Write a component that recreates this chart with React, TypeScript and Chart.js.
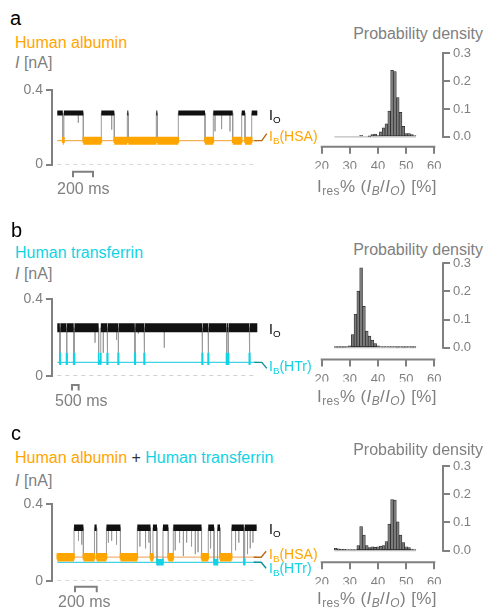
import { useEffect, useRef } from 'react';
import type { ReactNode, CSSProperties } from 'react';
import { Chart, registerables } from 'chart.js';

Chart.register(...registerables);

const FONT = "'Liberation Sans', Arial, sans-serif";
Chart.defaults.font.family = FONT;

const GRAY = '#808080';
const ORANGE = '#ffa500';
const CYAN = '#12d3e4';
const HSA_LINK = '#b8690f';
const HTR_LINK = '#0b8f99';

// ---------------- data: panel a (human albumin) ----------------
const aDurationMs = 2000;
const aOpenNA = 0.277;
const aHsaNA = 0.128;
const aHsaEvents: [number, number][] = [
  [55, 66], [260, 440], [570, 700], [710, 990], [1000, 1210], [1477, 1560], [1754, 1844], [1877, 1944],
];
const aSpikes: [number, number][] = [
  [210, 0.224], [544, 0.187], [1577, 0.178], [1643, 0.19], [1727, 0.178],
];
const aScaleBarMs: [number, number] = [157, 200];

// ---------------- data: panel b (human transferrin) ----------------
const bDurationMs = 15000;
const bOpenNA = 0.251;
const bHtrNA = 0.07;
const bHtrEvents: [number, number][] = [
  [190, 230], [690, 730], [1230, 1290], [3100, 3260], [3740, 3780], [4560, 4600], [5810, 5850],
  [6510, 6550], [10860, 10900], [11310, 11350], [12690, 12730], [12810, 12850], [14400, 14440],
];
const bSpikes: [number, number][] = [
  [2830, 0.173], [3450, 0.12], [4440, 0.187], [6075, 0.22], [8025, 0.147],
];
const bScaleBarMs: [number, number] = [1100, 500];

// ---------------- data: panel c (mixture) ----------------
const cDurationMs = 1834;
const cOpenNA = 0.278;
const cHsaNA = 0.124;
const cHtrNA = 0.0975;
const cHsaEvents: [number, number][] = [
  [0, 154], [240, 342], [362, 452], [581, 736], [857, 880], [1021, 1067], [1327, 1389], [1497, 1604],
];
const cHtrEvents: [number, number][] = [[917, 972], [1442, 1474], [1716, 1724]];
const cSpikes: [number, number][] = [
  [195, 0.21], [225, 0.19], [470, 0.2], [500, 0.21], [545, 0.19], [760, 0.18], [812, 0.17], [843, 0.2],
  [1085, 0.16], [1125, 0.2], [1160, 0.13], [1190, 0.2], [1235, 0.18], [1270, 0.14], [1295, 0.15],
  [1410, 0.17], [1640, 0.16], [1670, 0.2], [1750, 0.14], [1775, 0.17], [1800, 0.2],
];
const cScaleBarMs: [number, number] = [163, 200];

// ---------------- data: histograms ----------------
const histBinCenters = [25, 26, 27, 28, 29, 30, 31, 32, 33, 34, 35, 36, 37, 38, 39, 40, 41, 42, 43, 44, 45, 46, 47, 48, 49, 50, 51, 52, 53];
const histEdges: [number, number] = [24.5, 53.5];
const aDensity = [0, 0, 0, 0, 0, 0, 0, 0, 0, 0.006, 0, 0, 0.002, 0.008, 0.01, 0.005, 0.018, 0.032, 0.047, 0.092, 0.238, 0.234, 0.141, 0.088, 0.038, 0.012, 0.012, 0.008, 0.005];
const bDensity = [0.002, 0.002, 0.002, 0.002, 0.003, 0.007, 0.047, 0.119, 0.201, 0.284, 0.147, 0.059, 0.041, 0.027, 0.015, 0.007, 0.004, 0.003, 0.004, 0.003, 0.003, 0.003, 0.002, 0.003, 0.002, 0.002, 0.003, 0.002, 0.002];
const cDensity = [0.008, 0.007, 0.005, 0.005, 0.004, 0.004, 0.003, 0.004, 0.018, 0.085, 0.055, 0.018, 0.011, 0.014, 0.012, 0.014, 0.016, 0.018, 0.032, 0.094, 0.181, 0.179, 0.102, 0.055, 0.029, 0.014, 0.011, 0.006, 0.004];
const histXTicks = [20, 30, 40, 50, 60];
const histYTicks = [0, 0.1, 0.2, 0.3];
const traceYTicks = [0, 0.4];

// ---------------- types ----------------
type Block = {
  level: number; events: [number, number][]; color: string; band: number;
  tipUp: number; tipDown: number; refColor: string;
};
type TraceCfg = {
  y04: number; y0: number; msPerPx: number; duration: number; open: number; openBand: number;
  blocks: Block[]; spikes: [number, number][]; scaleBar: [number, number]; scaleBarGap: number;
  connectors: { level: number; color: string; dy: number }[];
};
type HistCfg = { y03: number; y00: number; yAxis: number; density: number[] };
type P = { x: number; y: number | null };

function buildTrace(cfg: TraceCfg) {
  const items = [
    ...cfg.blocks.flatMap((b) => b.events.map(([s, e]) => ({ s, e, level: b.level, spike: false }))),
    ...cfg.spikes.map(([t, d]) => ({ s: t, e: t, level: d, spike: true })),
  ].sort((p, q) => p.s - q.s);
  const gray: P[] = [];
  const open: P[] = [];
  let cursor = 0;
  const startsBlocked = items.length > 0 && !items[0].spike && items[0].s <= 0;
  if (!startsBlocked) gray.push({ x: 0, y: cfg.open });
  for (const it of items) {
    if (it.spike) {
      gray.push({ x: it.s, y: cfg.open }, { x: it.s, y: it.level }, { x: it.s, y: cfg.open });
      continue;
    }
    if (it.s > cursor) open.push({ x: cursor, y: cfg.open }, { x: it.s, y: cfg.open }, { x: it.s, y: null });
    if (it.s > 0) gray.push({ x: it.s, y: cfg.open });
    gray.push({ x: it.s, y: it.level }, { x: it.e, y: it.level }, { x: it.e, y: cfg.open });
    cursor = it.e;
  }
  if (cursor < cfg.duration) open.push({ x: cursor, y: cfg.open }, { x: cfg.duration, y: cfg.open });
  gray.push({ x: cfg.duration, y: cfg.open });
  return { gray, open };
}

function lineDs(data: P[], color: string, width: number, dash: number[] = []) {
  return {
    type: 'line' as const, data, borderColor: color, borderWidth: width, borderDash: dash,
    pointRadius: 0, tension: 0, fill: false, spanGaps: false, borderCapStyle: 'butt' as const,
  };
}

const TRACE_W = 300;
const TRACE_H = 140;
const AXIS_X = 52;
const START_X = 57.3;

function TraceChart({ cfg }: { cfg: TraceCfg }) {
  const ref = useRef<HTMLCanvasElement>(null);
  const canvasTop = Math.round(cfg.y04) - 20;
  useEffect(() => {
    if (!ref.current) return;
    const padT = cfg.y04 - canvasTop;
    const padB = TRACE_H - padT - (cfg.y0 - cfg.y04);
    const xMin = -(START_X - AXIS_X) * cfg.msPerPx;
    const xMax = xMin + (TRACE_W - AXIS_X) * cfg.msPerPx;
    const { gray, open } = buildTrace(cfg);
    const ds: any[] = [];
    cfg.blocks.forEach((b) => {
      const tips: P[] = b.events.flatMap(([s, e]) => [
        { x: s, y: b.level + b.tipUp }, { x: s, y: b.level - b.tipDown }, { x: s, y: null },
        { x: e, y: b.level - b.tipDown }, { x: e, y: b.level + b.tipUp }, { x: e, y: null },
      ]);
      ds.push(lineDs(tips, b.color, 1.6));
    });
    cfg.blocks.forEach((b) => {
      const band: P[] = b.events.flatMap(([s, e]) => [{ x: s, y: b.level }, { x: e, y: b.level }, { x: e, y: null }]);
      ds.push(lineDs(band, b.color, b.band));
    });
    ds.push(lineDs(open, '#111111', cfg.openBand));
    ds.push(lineDs(gray, '#9a9a9a', 1));
    cfg.blocks.forEach((b) => {
      ds.push(lineDs([{ x: 0, y: b.level }, { x: cfg.duration, y: b.level }], b.refColor, 1.3));
    });
    ds.push(lineDs([{ x: 0, y: 0 }, { x: cfg.duration, y: 0 }], '#b4b4b4', 1, [4, 4]));

    const extras = {
      id: 'traceExtras',
      afterDatasetsDraw(chart: any) {
        const { ctx, scales } = chart;
        const x = scales.x, y = scales.y;
        ctx.save();
        const x1 = x.getPixelForValue(cfg.scaleBar[0]);
        const x2 = x.getPixelForValue(cfg.scaleBar[0] + cfg.scaleBar[1]);
        const yb = y.getPixelForValue(0) + cfg.scaleBarGap;
        ctx.strokeStyle = GRAY;
        ctx.lineWidth = 2;
        ctx.lineJoin = 'miter';
        ctx.beginPath();
        ctx.moveTo(x1, yb + 5.5);
        ctx.lineTo(x1, yb);
        ctx.lineTo(x2, yb);
        ctx.lineTo(x2, yb + 5.5);
        ctx.stroke();
        const xe = x.getPixelForValue(cfg.duration);
        cfg.connectors.forEach((c) => {
          const yc = y.getPixelForValue(c.level);
          ctx.strokeStyle = c.color;
          ctx.lineWidth = 1.4;
          ctx.beginPath();
          ctx.moveTo(xe - 3, yc);
          ctx.lineTo(xe + 4.5, yc);
          ctx.lineTo(xe + 9.5, yc + c.dy);
          ctx.stroke();
        });
        ctx.restore();
      },
    };

    const chart = new Chart(ref.current, {
      type: 'line',
      data: { datasets: ds },
      options: {
        responsive: false, animation: false, events: [],
        layout: { padding: { left: 0, right: 0, top: padT, bottom: padB } },
        plugins: { legend: { display: false }, tooltip: { enabled: false } },
        scales: {
          x: { type: 'linear', display: false, min: xMin, max: xMax, bounds: 'data' },
          y: {
            type: 'linear', min: 0, max: 0.4, bounds: 'data',
            afterBuildTicks: (s: any) => { s.ticks = traceYTicks.map((v) => ({ value: v })); },
            afterFit: (s: any) => { s.width = AXIS_X; },
            grid: { display: true, drawOnChartArea: false, drawTicks: true, tickLength: 6, color: GRAY, lineWidth: 2 },
            border: { display: true, color: GRAY, width: 2 },
            ticks: {
              color: GRAY, font: { size: 14 }, padding: 3,
              callback: (v: any) => (Number(v) === 0 ? '0' : Number(v).toFixed(1)),
            },
          },
        },
      } as any,
      plugins: [extras],
    });
    return () => chart.destroy();
  }, [cfg, canvasTop]);
  return (
    <canvas ref={ref} width={TRACE_W} height={TRACE_H}
      style={{ position: 'absolute', left: 0, top: canvasTop, width: TRACE_W, height: TRACE_H }} />
  );
}

const HIST_LEFT = 300;
const HIST_W = 185;
const HIST_H = 140;
const HIST_X20 = 321.7;
const HIST_X60 = 434.3;
const HIST_YAXIS = 443;

function HistChart({ cfg }: { cfg: HistCfg }) {
  const ref = useRef<HTMLCanvasElement>(null);
  const canvasTop = Math.round(cfg.y03) - 12;
  useEffect(() => {
    if (!ref.current) return;
    const padT = cfg.y03 - canvasTop;
    const padB = HIST_H - (cfg.yAxis - canvasTop) - 22;
    const yMin = -((cfg.yAxis - cfg.y00) / (cfg.y00 - cfg.y03)) * 0.3;
    const pxPerUnit = (HIST_X60 - HIST_X20) / 40;
    const padL = HIST_X20 - HIST_LEFT;
    const areaRight = HIST_YAXIS - HIST_LEFT;
    const xMax = 20 + (areaRight - padL) / pxPerUnit;

    const spines = {
      id: 'spines',
      afterDraw(chart: any) {
        const { ctx, chartArea, scales } = chart;
        const x = scales.x, y = scales.y;
        ctx.save();
        ctx.strokeStyle = GRAY;
        ctx.lineWidth = 2;
        ctx.lineCap = 'square';
        ctx.beginPath();
        ctx.moveTo(x.getPixelForValue(histXTicks[0]), chartArea.bottom);
        ctx.lineTo(x.getPixelForValue(histXTicks[histXTicks.length - 1]), chartArea.bottom);
        ctx.moveTo(chartArea.right, y.getPixelForValue(histYTicks[0]));
        ctx.lineTo(chartArea.right, y.getPixelForValue(histYTicks[histYTicks.length - 1]));
        ctx.stroke();
        ctx.restore();
      },
    };

    const chart = new Chart(ref.current, {
      type: 'bar',
      data: {
        datasets: [
          {
            type: 'bar',
            data: histBinCenters.map((x, i) => ({ x, y: cfg.density[i] })),
            backgroundColor: '#7b7b7b', borderColor: '#262626', borderWidth: 0.7, borderSkipped: false,
            barPercentage: 1, categoryPercentage: 1, order: 0,
          },
          {
            type: 'line',
            data: [{ x: histEdges[0], y: 0 }, { x: histEdges[1], y: 0 }],
            borderColor: '#bdbdbd', borderWidth: 1.2, pointRadius: 0, order: 1,
          },
        ],
      } as any,
      options: {
        responsive: false, animation: false, events: [],
        layout: { padding: { left: padL, right: 0, top: padT, bottom: padB } },
        plugins: { legend: { display: false }, tooltip: { enabled: false } },
        scales: {
          x: {
            type: 'linear', min: 20, max: xMax, bounds: 'data', offset: false,
            afterBuildTicks: (s: any) => { s.ticks = histXTicks.map((v) => ({ value: v })); },
            afterFit: (s: any) => { s.height = 22; },
            grid: { display: true, offset: false, drawOnChartArea: false, tickLength: 7, color: GRAY, lineWidth: 2 },
            border: { display: false },
            ticks: { color: GRAY, font: { size: 13 }, padding: 5, maxRotation: 0, autoSkip: false, callback: (v: any) => String(v) },
          },
          y: {
            type: 'linear', position: 'right', min: yMin, max: 0.3, bounds: 'data',
            afterBuildTicks: (s: any) => { s.ticks = histYTicks.map((v) => ({ value: v })); },
            afterFit: (s: any) => { s.width = HIST_W - areaRight; },
            grid: { display: true, drawOnChartArea: false, tickLength: 7, color: GRAY, lineWidth: 2 },
            border: { display: false },
            ticks: { color: GRAY, font: { size: 13 }, padding: 3, callback: (v: any) => Number(v).toFixed(1) },
          },
        },
      } as any,
      plugins: [spines],
    });
    return () => chart.destroy();
  }, [cfg, canvasTop]);
  return (
    <canvas ref={ref} width={HIST_W} height={HIST_H}
      style={{ position: 'absolute', left: HIST_LEFT, top: canvasTop, width: HIST_W, height: HIST_H }} />
  );
}

// ---------------- configs ----------------
const traceA: TraceCfg = {
  y04: 90, y0: 164.5, msPerPx: 10, duration: aDurationMs, open: aOpenNA, openBand: 5,
  blocks: [{ level: aHsaNA, events: aHsaEvents, color: ORANGE, band: 8, tipUp: 0.02, tipDown: 0.012, refColor: 'rgba(240,150,30,0.75)' }],
  spikes: aSpikes, scaleBar: aScaleBarMs, scaleBarGap: 7.2,
  connectors: [{ level: aHsaNA, color: HSA_LINK, dy: -7 }],
};
const traceB: TraceCfg = {
  y04: 299.3, y0: 375.7, msPerPx: 75, duration: bDurationMs, open: bOpenNA, openBand: 9,
  blocks: [{ level: bHtrNA, events: bHtrEvents, color: CYAN, band: 4, tipUp: 0.05, tipDown: 0.014, refColor: 'rgba(18,200,220,0.8)' }],
  spikes: bSpikes, scaleBar: bScaleBarMs, scaleBarGap: 9.3,
  connectors: [{ level: bHtrNA, color: HTR_LINK, dy: 6 }],
};
const traceC: TraceCfg = {
  y04: 504.3, y0: 581, msPerPx: 9.2, duration: cDurationMs, open: cOpenNA, openBand: 6.5,
  blocks: [
    { level: cHsaNA, events: cHsaEvents, color: ORANGE, band: 8.5, tipUp: 0.02, tipDown: 0.012, refColor: 'rgba(230,150,60,0.7)' },
    { level: cHtrNA, events: cHtrEvents, color: CYAN, band: 6.5, tipUp: 0.02, tipDown: 0.015, refColor: 'rgba(18,200,220,0.8)' },
  ],
  spikes: cSpikes, scaleBar: cScaleBarMs, scaleBarGap: 5.8,
  connectors: [{ level: cHsaNA, color: HSA_LINK, dy: -6 }, { level: cHtrNA, color: HTR_LINK, dy: 6 }],
};
const histA: HistCfg = { y03: 53, y00: 136.9, yAxis: 146.7, density: aDensity };
const histB: HistCfg = { y03: 263.3, y00: 347.7, yAxis: 359.5, density: bDensity };
const histC: HistCfg = { y03: 466, y00: 550.7, yAxis: 562.3, density: cDensity };

// ---------------- text ----------------
function Txt({ x, y, size = 16, color = GRAY, align = 'left', children, style }: {
  x: number; y: number; size?: number; color?: string; align?: 'left' | 'right' | 'center';
  children: ReactNode; style?: CSSProperties;
}) {
  const s: CSSProperties = {
    position: 'absolute', top: y, fontSize: size, lineHeight: 1, color, whiteSpace: 'nowrap', fontFamily: FONT, ...style,
  };
  if (align === 'right') s.right = x;
  else if (align === 'center') { s.left = x - 100; s.width = 200; s.textAlign = 'center'; }
  else s.left = x;
  return <div style={s}>{children}</div>;
}
const Sub = ({ children }: { children: ReactNode }) => (
  <span style={{ fontSize: '0.7em', verticalAlign: '-0.28em' }}>{children}</span>
);
const XLabel = () => (
  <>I<Sub>res</Sub>% (<i>I</i><Sub><i>B</i></Sub>/<i>I</i><Sub><i>O</i></Sub>) [%]</>
);
const YLabel = () => (<><i>I</i> [nA]</>);

export default function App() {
  return (
    <div style={{ position: 'absolute', left: 0, top: 0, width: 485, height: 610, background: '#fff', overflow: 'hidden', fontFamily: FONT }}>
      {/* panel a */}
      <Txt x={10} y={8} size={20} color="#000">a</Txt>
      <Txt x={15} y={34.5} color={ORANGE}>Human albumin</Txt>
      <Txt x={15} y={55}><YLabel /></Txt>
      <TraceChart cfg={traceA} />
      <Txt x={57} y={180.5}>200 ms</Txt>
      <Txt x={269} y={108} size={14} color="#000">I<Sub>O</Sub></Txt>
      <Txt x={269} y={129} size={14} color={ORANGE}>I<Sub>B</Sub>(HSA)</Txt>
      <Txt x={2} y={26} align="right">Probability density</Txt>
      <HistChart cfg={histA} />
      <Txt x={377} y={178} size={17} align="center" style={{ letterSpacing: 0.4 }}><XLabel /></Txt>

      {/* panel b */}
      <Txt x={11} y={220} size={20} color="#000">b</Txt>
      <Txt x={15} y={244.5} color={CYAN}>Human transferrin</Txt>
      <Txt x={15} y={266}><YLabel /></Txt>
      <TraceChart cfg={traceB} />
      <Txt x={55} y={393}>500 ms</Txt>
      <Txt x={269} y={322} size={14} color="#000">I<Sub>O</Sub></Txt>
      <Txt x={269} y={359} size={14} color={CYAN}>I<Sub>B</Sub>(HTr)</Txt>
      <Txt x={2} y={241.5} align="right">Probability density</Txt>
      <HistChart cfg={histB} />
      <Txt x={377} y={388} size={17} align="center" style={{ letterSpacing: 0.4 }}><XLabel /></Txt>

      {/* panel c */}
      <Txt x={11} y={423} size={20} color="#000">c</Txt>
      <Txt x={15} y={450} color={ORANGE}>
        Human albumin <span style={{ color: '#333' }}>+</span> <span style={{ color: CYAN }}>Human transferrin</span>
      </Txt>
      <Txt x={15} y={473}><YLabel /></Txt>
      <TraceChart cfg={traceC} />
      <Txt x={58} y={594}>200 ms</Txt>
      <Txt x={269} y={522} size={14} color="#000">I<Sub>O</Sub></Txt>
      <Txt x={269} y={547} size={14} color={ORANGE}>I<Sub>B</Sub>(HSA)</Txt>
      <Txt x={269} y={561} size={14} color={CYAN}>I<Sub>B</Sub>(HTr)</Txt>
      <Txt x={2} y={441.5} align="right">Probability density</Txt>
      <HistChart cfg={histC} />
      <Txt x={377} y={589.5} size={17} align="center" style={{ letterSpacing: 0.4 }}><XLabel /></Txt>
    </div>
  );
}
